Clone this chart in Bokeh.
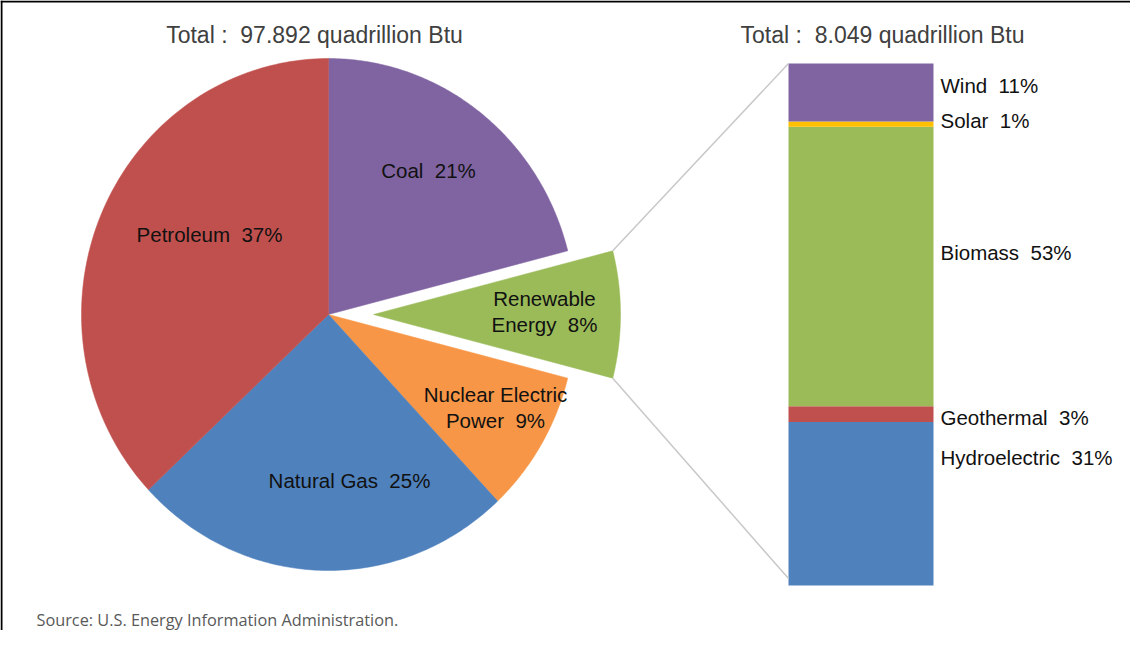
import numpy as np
from bokeh.plotting import figure
from bokeh.models import Range1d, Span, ColumnDataSource
from bokeh.core.properties import value
from bokeh.embed import file_html
from bokeh.resources import INLINE

# ---------------- data ----------------
pie_categories = ["Coal", "Renewable Energy", "Nuclear Electric Power", "Natural Gas", "Petroleum"]
pie_shares = [21, 8, 9, 25, 37]          # percent, clockwise from 12 o'clock
pie_labels = ["Coal\u00a0 21%", "Renewable\nEnergy\u00a0 8%", "Nuclear Electric\nPower\u00a0 9%",
              "Natural Gas\u00a0 25%", "Petroleum\u00a0 37%"]
pie_total = "97.892"

bar_categories = ["Hydroelectric", "Geothermal", "Biomass", "Solar", "Wind"]  # bottom -> top
bar_shares = [31, 3, 53, 1, 11]
bar_labels = ["Hydroelectric\u00a0 31%", "Geothermal\u00a0 3%", "Biomass\u00a0 53%",
              "Solar\u00a0 1%", "Wind\u00a0 11%"]
bar_total = "8.049"

source_note = "Source: U.S. Energy Information Administration."

# ---------------- styles / layout ----------------
pie_colors = ["#8064A2", "#9BBB59", "#F79646", "#4F81BD", "#C0504D"]
bar_colors = ["#4F81BD", "#C0504D", "#9BBB59", "#FFC000", "#8064A2"]
exploded = "Renewable Energy"

W, H = 1130, 630
OX, OY = 8, 8                     # page margin: data coords == page pixel coords
CX, CY = 336.0, 322.0             # pie centre (px)
RX, RY = 247.0, 256.0             # pie radii (px)
EXPLODE = 45.0
BAR_LEFT, BAR_RIGHT = 796.0, 941.0
BAR_TOP_PX, BAR_BOTTOM_PX = 71.0, 593.0

pie_label_pos = [(436, 178), (552, 319), (503, 415), (357, 488), (217, 242)]
bar_label_x = 948
bar_label_y = [465, 425, 260, 128, 93]

LABEL_FONT = value("Liberation Sans")

p = figure(width=W, height=H, output_backend="svg", toolbar_location=None,
           x_range=Range1d(OX, OX + W), y_range=Range1d(OY + H, OY),
           x_axis_location=None, y_axis_location=None, min_border=0,
           background_fill_color="white", border_fill_color="white")
p.outline_line_color = None
p.grid.visible = False

# ---------------- pie (drawn as patches from the shares) ----------------
fr = np.array(pie_shares, dtype=float) / sum(pie_shares)
ends = np.cumsum(fr)
starts = ends - fr
xs, ys, corners = [], [], {}
for cat, s, e in zip(pie_categories, starts, ends):
    t0 = np.deg2rad(90 - 360 * s)
    t1 = np.deg2rad(90 - 360 * e)
    tm = 0.5 * (t0 + t1)
    cx, cy = CX, CY
    if cat == exploded:
        cx += EXPLODE * np.cos(tm)
        cy -= EXPLODE * np.sin(tm)
    t = np.linspace(t0, t1, 120)
    px = np.concatenate([[cx], cx + RX * np.cos(t)])
    py = np.concatenate([[cy], cy - RY * np.sin(t)])
    xs.append(px.tolist())
    ys.append(py.tolist())
    corners[cat] = ((px[1], py[1]), (px[-1], py[-1]))

p.patches(xs=xs, ys=ys, fill_color=pie_colors, line_color=pie_colors, line_width=0.5)

# ---------------- stacked bar (own y scale) ----------------
bar_sum = float(sum(bar_shares))
ppp = (BAR_BOTTOM_PX - BAR_TOP_PX) / bar_sum
p.extra_y_ranges = {"bar": Range1d(start=(BAR_BOTTOM_PX - (OY + H)) / ppp,
                                   end=(BAR_BOTTOM_PX - OY) / ppp)}
tops = np.cumsum(bar_shares).astype(float)
bottoms = tops - np.array(bar_shares, dtype=float)
bsrc = ColumnDataSource(dict(cat=bar_categories, bottom=bottoms, top=tops, color=bar_colors))
p.vbar(x=(BAR_LEFT + BAR_RIGHT) / 2, width=BAR_RIGHT - BAR_LEFT, bottom="bottom", top="top",
       fill_color="color", line_color=None, source=bsrc, y_range_name="bar")

# connector lines
(ux, uy), (lx, ly) = corners[exploded]
p.segment(x0=[ux, lx], y0=[uy, ly], x1=[BAR_LEFT, BAR_LEFT], y1=[BAR_TOP_PX, BAR_BOTTOM_PX - 7],
          line_color="#c8c8c8", line_width=1.5)

# ---------------- texts ----------------
p.text(x=[pp[0] for pp in pie_label_pos], y=[pp[1] for pp in pie_label_pos], text=pie_labels,
       text_font=LABEL_FONT, text_font_size="20.5px", text_color="#111111",
       text_align="center", text_baseline="middle", text_line_height=1.15)

p.text(x=[bar_label_x] * len(bar_labels), y=bar_label_y, text=bar_labels,
       text_font=LABEL_FONT, text_font_size="20.5px", text_color="#111111",
       text_align="left", text_baseline="middle")

p.text(x=[322, 890], y=[42, 42],
       text=["Total :\u00a0 %s quadrillion Btu" % pie_total, "Total :\u00a0 %s quadrillion Btu" % bar_total],
       text_font=LABEL_FONT, text_font_size="23px", text_color="#404040",
       text_align="center", text_baseline="middle")

p.text(x=[44], y=[627], text=[source_note], text_font=value("Open Sans"),
       text_font_size="16.3px", text_color="#595959", text_align="left", text_baseline="middle")

# frame lines (top and left)
p.add_layout(Span(location=9, dimension="width", line_color="black", line_width=2))
p.add_layout(Span(location=9, dimension="height", line_color="black", line_width=2))

open("out.html", "w").write(file_html(p, INLINE))
